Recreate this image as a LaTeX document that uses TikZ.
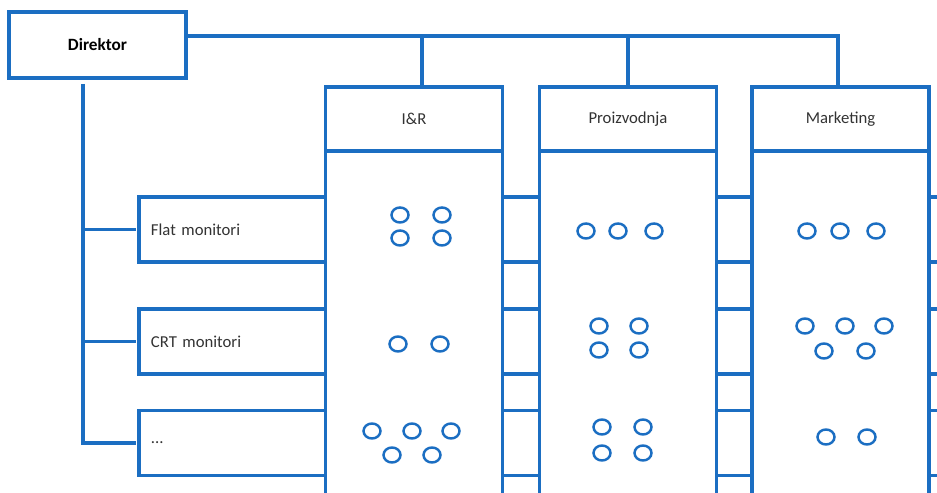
\documentclass[tikz,border=0pt]{standalone}
\usepackage{fontspec}
\setmainfont{Carlito}
\usetikzlibrary{positioning}
\definecolor{orgblue}{HTML}{1B6EC2}

\begin{document}
\begin{tikzpicture}[x=0.02cm, y=-0.02cm,
    every node/.style={font=\fontsize{9.5}{11}\selectfont, text=black!80},
    box/.style={draw=orgblue, line width=1.9pt, fill=white, inner sep=0pt, outer sep=0pt},
    unit/.style={box, minimum width=3.54cm, minimum height=1.28cm},
    staff/.style={box, minimum width=3.54cm, minimum height=7.4cm},
    product/.style={box, anchor=west, text width=16.34cm, inner xsep=0.24cm, minimum height=1.3cm, align=left},
    link/.style={draw=orgblue, line width=1.9pt},
    ring/.style={draw=orgblue, line width=1.4pt}]
    \useasboundingbox (0,0) rectangle (937,493);
    \clip (0,0) rectangle (937,493);

    \node[box, minimum width=3.54cm, minimum height=1.32cm, font=\fontsize{9.8}{11}\selectfont\bfseries, text=black] (direktor) at (97.5,45) {Direktor};

    \node[product] (flat) at (139,229.5) {Flat monitori};
    \node[product] (crt)  at (139,341.5) {CRT monitori};
    \node[product] (dots) at (139,443)   {...};

    \node[unit] (irh)  at (414,119)   {I\&R};
    \node[unit] (proh) at (628,119)   {Proizvodnja};
    \node[unit] (mkth) at (840.5,119) {Marketing};
    \node[staff, below=0pt of irh]  (ir)  {};
    \node[staff, below=0pt of proh] (pro) {};
    \node[staff, below=0pt of mkth] (mkt) {};

    \draw[link] ([yshift=0.18cm]direktor.east) -| ([xshift=-0.05cm]mkth.north);
    \draw[link] ([xshift=0.16cm]irh.north) -- ++(0,-51);
    \draw[link] (proh.north) -- ++(0,-51);

    \coordinate (bus) at (83,84);
    \draw[link, shorten >=0.06cm] (bus) |- (dots.west);
    \draw[link, shorten >=0.06cm] (bus |- flat.west) -- (flat.west);
    \draw[link, shorten >=0.06cm] (bus |- crt.west) -- (crt.west);

    \foreach \x/\y in {400/215, 442/215, 400/238, 442/238, 398/344, 440/344,
        372/431, 412/431, 451/431, 392/455, 432/455,
        586/231, 618/231, 654/231, 599/326, 639/326, 599/350, 639/350,
        602/427, 643/427, 602/453, 643/453,
        807/231, 840/231, 876/231, 805/326, 845/326, 884/326, 824/351, 866/351,
        826/437, 867/437}
      \draw[ring] (\x,\y) ellipse (8.5 and 7.5);
\end{tikzpicture}
\end{document}
